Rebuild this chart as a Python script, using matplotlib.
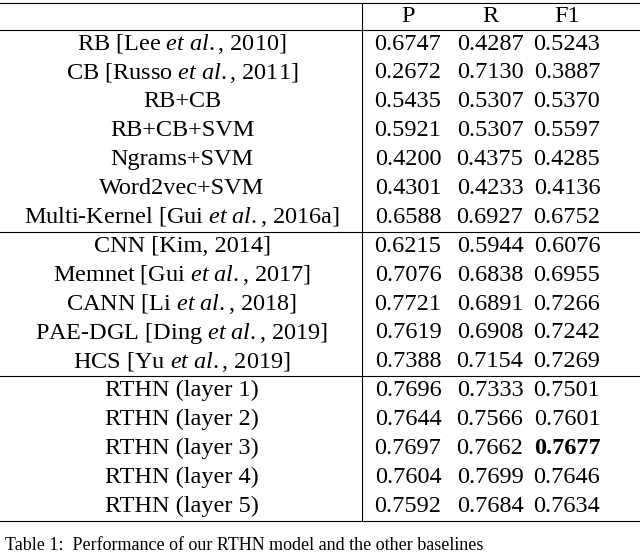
import matplotlib
matplotlib.use("Agg")
import matplotlib.pyplot as plt

plt.rcParams['mathtext.fontset'] = 'custom'
plt.rcParams['mathtext.rm'] = 'Liberation Serif'
plt.rcParams['mathtext.it'] = 'Liberation Serif:italic'
plt.rcParams['mathtext.bf'] = 'Liberation Serif:bold'

E = r"$\mathit{et\ al.}$"
headers = ["P", "R", "F1"]
groups = [
    [("RB [Lee " + E + ", 2010]", ["0.6747", "0.4287", "0.5243"]),
     ("CB [Russo " + E + ", 2011]", ["0.2672", "0.7130", "0.3887"]),
     ("RB+CB", ["0.5435", "0.5307", "0.5370"]),
     ("RB+CB+SVM", ["0.5921", "0.5307", "0.5597"]),
     ("Ngrams+SVM", ["0.4200", "0.4375", "0.4285"]),
     ("Word2vec+SVM", ["0.4301", "0.4233", "0.4136"]),
     ("Multi-Kernel [Gui " + E + ", 2016a]", ["0.6588", "0.6927", "0.6752"])],
    [("CNN [Kim, 2014]", ["0.6215", "0.5944", "0.6076"]),
     ("Memnet [Gui " + E + ", 2017]", ["0.7076", "0.6838", "0.6955"]),
     ("CANN [Li " + E + ", 2018]", ["0.7721", "0.6891", "0.7266"]),
     ("PAE-DGL [Ding " + E + ", 2019]", ["0.7619", "0.6908", "0.7242"]),
     ("HCS [Yu " + E + ", 2019]", ["0.7388", "0.7154", "0.7269"])],
    [("RTHN (layer 1)", ["0.7696", "0.7333", "0.7501"]),
     ("RTHN (layer 2)", ["0.7644", "0.7566", "0.7601"]),
     ("RTHN (layer 3)", ["0.7697", "0.7662", "0.7677"]),
     ("RTHN (layer 4)", ["0.7604", "0.7699", "0.7646"]),
     ("RTHN (layer 5)", ["0.7592", "0.7684", "0.7634"])],
]
bold_cell = ("RTHN (layer 3)", 2)

fig = plt.figure(figsize=(6.4, 5.58), dpi=100)
ax = fig.add_axes([0, 0, 1, 1])
ax.set_xlim(0, 640); ax.set_ylim(558, 0); ax.axis('off')
fs = 17.5
ff = 'Liberation Serif'
colx = [408, 490, 567]
ax.axhline(3, color='k', lw=0.8)
for x, h in zip(colx, headers):
    ax.text(x, 16, h, ha='center', va='center', fontsize=fs, family=ff)
ax.axhline(30, color='k', lw=0.8)
y = 44
step = 28.9
for g in groups:
    for name, vals in g:
        ax.text(182, y, name, ha='center', va='center', fontsize=fs, family=ff)
        for i, (x, v) in enumerate(zip(colx, vals)):
            w = 'bold' if (name, i) == bold_cell else 'normal'
            ax.text(x, y, v, ha='center', va='center', fontsize=fs, family=ff, weight=w)
        y += step
    ax.axhline(y - step / 2, color='k', lw=0.8)
ax.plot([362, 362], [3, y - step / 2], color='k', lw=0.8)
ax.text(5, 546, "Table 1:  Performance of our RTHN model and the other baselines", ha='left',
        va='center', fontsize=13, family=ff)
fig.savefig("out.png", dpi=100)
